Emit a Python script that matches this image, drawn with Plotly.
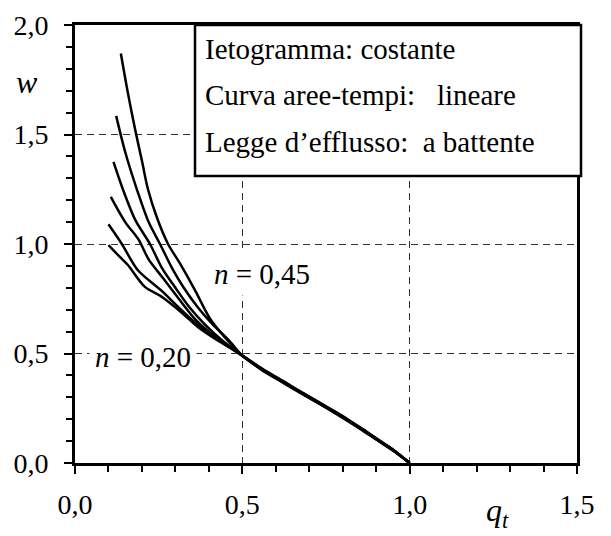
import plotly.graph_objects as go

# Dimensionless discharge q_t vs. dimensionless volume w, for several exponents n
tail_q = [0.56, 0.62, 0.68, 0.74, 0.80, 0.86, 0.91, 0.95, 1.00]

q_020 = [0.100, 0.134, 0.158, 0.209, 0.260, 0.320, 0.367, 0.430, 0.500] + tail_q
w_020 = [0.995, 0.941, 0.904, 0.804, 0.758, 0.685, 0.621, 0.556, 0.492,
         0.428, 0.372, 0.318, 0.266, 0.214, 0.152, 0.100, 0.060, 0.000]

q_025 = [0.100, 0.140, 0.188, 0.260, 0.310, 0.360, 0.400, 0.450, 0.500] + tail_q
w_025 = [1.090, 1.000, 0.880, 0.785, 0.710, 0.640, 0.595, 0.540, 0.490,
         0.424, 0.370, 0.315, 0.262, 0.208, 0.150, 0.098, 0.058, 0.000]

q_030 = [0.107, 0.150, 0.190, 0.220, 0.260, 0.310, 0.360, 0.420, 0.500] + tail_q
w_030 = [1.215, 1.100, 1.020, 0.930, 0.850, 0.750, 0.655, 0.575, 0.490,
         0.430, 0.376, 0.320, 0.268, 0.210, 0.155, 0.102, 0.062, 0.000]

q_035 = [0.115, 0.143, 0.180, 0.224, 0.260, 0.300, 0.340, 0.390, 0.440, 0.500] + tail_q
w_035 = [1.375, 1.250, 1.110, 1.000, 0.890, 0.800, 0.715, 0.630, 0.560, 0.490,
         0.422, 0.368, 0.314, 0.262, 0.206, 0.148, 0.097, 0.057, 0.000]

q_040 = [0.123, 0.150, 0.188, 0.220, 0.254, 0.290, 0.325, 0.365, 0.410, 0.460, 0.500] + tail_q
w_040 = [1.585, 1.420, 1.235, 1.100, 1.000, 0.890, 0.800, 0.715, 0.635, 0.560, 0.490,
         0.427, 0.374, 0.320, 0.266, 0.212, 0.150, 0.100, 0.059, 0.000]

q_045 = [0.137, 0.158, 0.180, 0.200, 0.218, 0.245, 0.278, 0.314, 0.360, 0.403, 0.450, 0.500] + tail_q
w_045 = [1.870, 1.690, 1.520, 1.380, 1.250, 1.120, 1.000, 0.910, 0.785, 0.660, 0.570, 0.490,
         0.426, 0.371, 0.317, 0.264, 0.210, 0.153, 0.101, 0.061, 0.000]

curves = [(q_020, w_020), (q_025, w_025), (q_030, w_030),
          (q_035, w_035), (q_040, w_040), (q_045, w_045)]

x_tickvals = [0.0, 0.5, 1.0, 1.5]
x_ticktext = ["0,0", "0,5", "1,0", "1,5"]
y_tickvals = [0.0, 0.5, 1.0, 1.5, 2.0]
y_ticktext = ["0,0", "0,5", "1,0", "1,5", "2,0"]

info_lines = [
    "Ietogramma:\u00a0costante",
    "Curva aree-tempi:\u00a0\u00a0\u00a0lineare",
    "Legge d\u2019efflusso:\u00a0\u00a0a battente",
]
label_low = "<i>n</i> = 0,20"
label_high = "<i>n</i> = 0,45"

FONT = "Liberation Serif"

fig = go.Figure()
for q, w in curves:
    fig.add_trace(go.Scatter(
        x=q, y=w, mode="lines",
        line=dict(color="black", width=2.5, shape="spline", smoothing=0.8),
        showlegend=False, hoverinfo="skip",
    ))

axis_common = dict(
    showline=True, linecolor="black", linewidth=3, mirror=True,
    ticks="outside", ticklen=8, tickwidth=2, tickcolor="black",
    showgrid=True, gridcolor="#333333", gridwidth=1, griddash="7px,5px",
    zeroline=False, automargin=False,
    tickfont=dict(family=FONT, size=28, color="black"),
    minor=dict(dtick=0.1, tick0=0, ticks="outside", ticklen=6,
               tickwidth=2, tickcolor="black", showgrid=False),
)

fig.update_xaxes(range=[0, 1.5], tickmode="array", tickvals=x_tickvals,
                 ticktext=x_ticktext, ticklabelstandoff=6, **axis_common)
fig.update_yaxes(range=[0, 2.0], tickmode="array", tickvals=y_tickvals,
                 ticktext=y_ticktext, ticklabelstandoff=10, **axis_common)

L, R, T, B = 75, 34, 25, 73
W, H = 611, 536
pw, ph = W - L - R, H - T - B


def px(xp):
    return (xp - L) / pw


def py(yp):
    return (H - B - yp) / ph


# info box in the upper right
fig.add_shape(type="rect", xref="paper", yref="paper",
              x0=px(195), x1=px(581), y0=py(176), y1=1.0,
              line=dict(color="black", width=2.5), fillcolor="white",
              layer="above")

for i, line in enumerate(info_lines):
    fig.add_annotation(xref="paper", yref="paper", x=px(203), y=py(49 + 46.5 * i),
                       text=line, showarrow=False, xanchor="left", yanchor="middle",
                       font=dict(family=FONT, size=29, color="black"))

fig.add_annotation(xref="paper", yref="paper", x=px(262), y=py(274),
                   text=label_high, showarrow=False, xanchor="center", yanchor="middle",
                   bgcolor="white", borderpad=5,
                   font=dict(family=FONT, size=29, color="black"))
fig.add_annotation(xref="paper", yref="paper", x=px(143), y=py(357),
                   text=label_low, showarrow=False, xanchor="center", yanchor="middle",
                   bgcolor="white", borderpad=5,
                   font=dict(family=FONT, size=29, color="black"))

# axis titles
fig.add_annotation(xref="paper", yref="paper", x=px(27), y=py(82),
                   text="<i>w</i>", showarrow=False, xanchor="center", yanchor="middle",
                   font=dict(family=FONT, size=32, color="black"))
fig.add_annotation(xref="paper", yref="paper", x=px(497), y=py(512),
                   text="<i>q</i><sub><i>t</i></sub>", showarrow=False,
                   xanchor="center", yanchor="middle",
                   font=dict(family=FONT, size=32, color="black"))

fig.update_layout(
    width=W, height=H,
    margin=dict(l=L, r=R, t=T, b=B, pad=0),
    paper_bgcolor="white", plot_bgcolor="white",
    showlegend=False,
)

fig.write_html("out.html")
